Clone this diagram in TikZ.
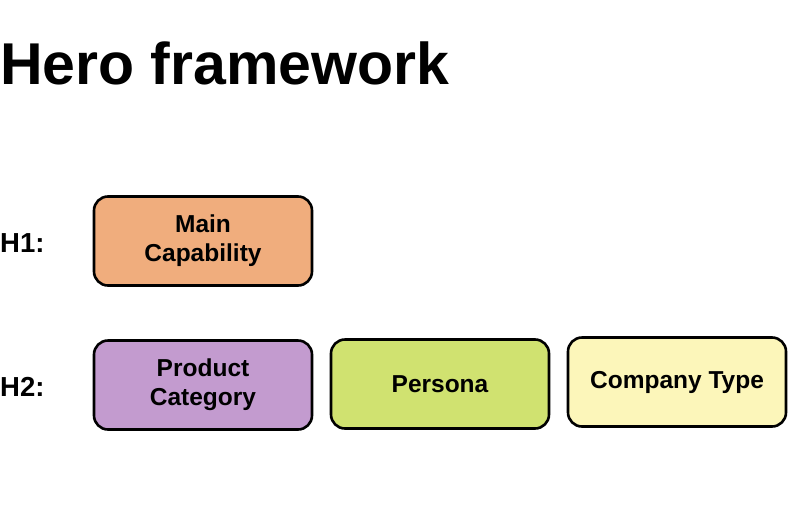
\documentclass[tikz,border=0pt]{standalone}
\usepackage{fontspec}
\setmainfont{Liberation Sans}
\begin{document}
\begin{tikzpicture}[x=1pt,y=-1pt,
  hbox/.style={draw=black,line width=2.6pt,rounded corners=14pt,minimum width=218pt,minimum height=89pt,align=center,font=\fontsize{24.5}{29}\selectfont\bfseries,inner sep=0pt},
  hlabel/.style={anchor=base west,font=\fontsize{27.5}{30}\selectfont\bfseries,inner sep=0pt}]
\useasboundingbox (0,0) rectangle (800,509);
\definecolor{corange}{HTML}{F0AD7D}
\definecolor{cpurple}{HTML}{C39BCF}
\definecolor{cgreen}{HTML}{D0E270}
\definecolor{cyellow}{HTML}{FCF6BA}
\node[anchor=base west,inner sep=0pt,font=\fontsize{59}{62}\selectfont\bfseries] (title) at (0,84) {Hero framework};
\node[hlabel] (h1) at (0,252) {H1:};
\node[hlabel] (h2) at (0,396) {H2:};
\node[hbox,fill=corange] (main) at (203,241) {Main\\Capability};
\node[hbox,fill=cpurple] (prod) at (203,385) {Product\\Category};
\node[hbox,fill=cgreen] (pers) at (440,384) {Persona};
\node[hbox,fill=cyellow] (comp) at (677,382) {Company Type};
\end{tikzpicture}
\end{document}
